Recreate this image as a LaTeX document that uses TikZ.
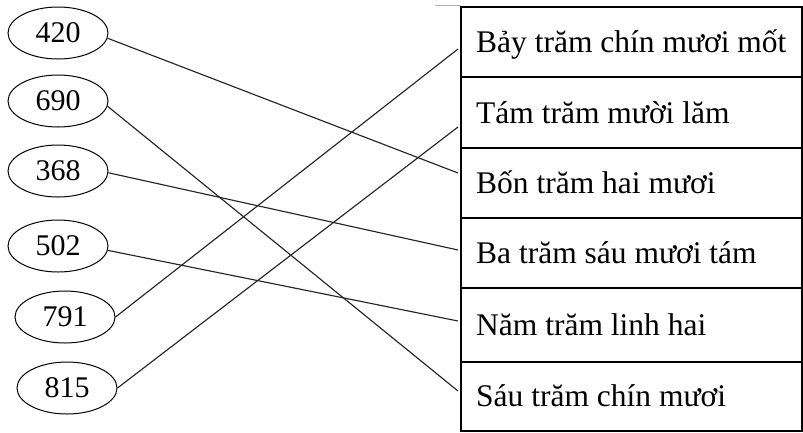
\documentclass[tikz,border=0pt]{standalone}
\usepackage{fontspec}
\setmainfont{Liberation Serif}
\usetikzlibrary{shapes.geometric}
\begin{document}
\begin{tikzpicture}[x=1pt,y=-1pt,
  num/.style={draw, ellipse, line width=1pt, minimum width=100pt, minimum height=52pt, inner sep=0pt, font=\fontsize{30}{32}\selectfont},
  rowbox/.style={draw, rectangle, line width=1.4pt, minimum width=341pt, inner sep=0pt},
  lbl/.style={anchor=base west, inner sep=0pt, font=\fontsize{31.5}{33}\selectfont},
  link/.style={line width=1.15pt, draw=black!85}]
\useasboundingbox (0,0) rectangle (803,432);
% faint mark at top
\draw[gray!60, line width=0.8pt] (435,5) -- (461,5);
% ellipses
\node[num] (e420) at (58,33) {420};
\node[num] (e690) at (58,101) {690};
\node[num] (e368) at (58,171) {368};
\node[num] (e502) at (58,246) {502};
\node[num] (e791) at (65,317) {791};
\node[num] (e815) at (67,388) {815};
% table rows
\node[rowbox, minimum height=70pt] (r1) at (631.5,42) {};
\node[rowbox, minimum height=71pt] (r2) at (631.5,112.5) {};
\node[rowbox, minimum height=70pt] (r3) at (631.5,183) {};
\node[rowbox, minimum height=70pt] (r4) at (631.5,253) {};
\node[rowbox, minimum height=74pt] (r5) at (631.5,325) {};
\node[rowbox, minimum height=69pt] (r6) at (631.5,396.5) {};
\node[lbl] (t1) at (476,52) {Bảy trăm chín mươi mốt};
\node[lbl] (t2) at (476,123) {Tám trăm mười lăm};
\node[lbl] (t3) at (476,193) {Bốn trăm hai mươi};
\node[lbl] (t4) at (476,263) {Ba trăm sáu mươi tám};
\node[lbl] (t5) at (476,335) {Năm trăm linh hai};
\node[lbl] (t6) at (476,406) {Sáu trăm chín mươi};
% connector end points near table
\coordinate (p1) at (458,49);
\coordinate (p2) at (458,127);
\coordinate (p3) at (458,173);
\coordinate (p4) at (458,250);
\coordinate (p5) at (458,321);
\coordinate (p6) at (458,391);
% connectors
\draw[link] (e420.-6) -- (p3);
\draw[link] (e690.-6) -- (p6);
\draw[link] (e368.-2) -- (p4);
\draw[link] (e502.-5) -- (p5);
\draw[link] (e791.east) -- (p1);
\draw[link] (e815.east) -- (p2);
\end{tikzpicture}
\end{document}
